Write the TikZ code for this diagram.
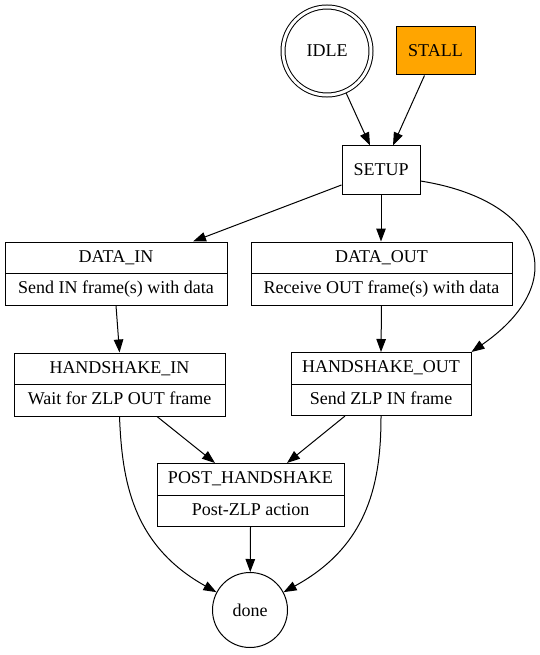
\documentclass[tikz,border=0pt]{standalone}
\usepackage{fontspec}
\setmainfont{Liberation Serif}
\usetikzlibrary{shapes.multipart,arrows.meta,calc}
\definecolor{stallorange}{HTML}{FFA500}
\newcommand{\recstrut}{\rule[-4pt]{0pt}{17pt}}
\begin{document}
\begin{tikzpicture}[x=1pt,y=-1pt,
  every node/.style={font=\fontsize{18}{21}\selectfont, line width=1pt},
  box/.style={draw, rectangle, minimum height=48pt, inner sep=0pt},
  rec/.style={draw, rectangle split, rectangle split parts=2, align=center, inner ysep=6.75pt, inner xsep=0pt},
  arr/.style={line width=1pt, -{Triangle[length=13pt,width=9.5pt]}},
]
\useasboundingbox (0,0) rectangle (540,655);

\node[circle, draw, double, double distance=3pt, minimum size=88pt, inner sep=0pt, outer sep=2.5pt] (idle) at (327,51) {IDLE};
\node[box, fill=stallorange, minimum width=79pt] (stall) at (435.5,51) {STALL};
\node[box, minimum width=78pt] (setup) at (381,170) {SETUP};

\node[rec, minimum width=222pt] (datain) at (116,273.5) {\recstrut DATA\_IN \nodepart{two}\recstrut Send IN frame(s) with data};
\node[rec, minimum width=261pt] (dataout) at (381.5,273.5) {\recstrut DATA\_OUT \nodepart{two}\recstrut Receive OUT frame(s) with data};
\node[rec, minimum width=211pt] (hsin) at (119.5,384.5) {\recstrut HANDSHAKE\_IN \nodepart{two}\recstrut Wait for ZLP OUT frame};
\node[rec, minimum width=180pt] (hsout) at (381,384) {\recstrut HANDSHAKE\_OUT \nodepart{two}\recstrut Send ZLP IN frame};
\node[rec, minimum width=187pt] (post) at (250.5,495) {\recstrut POST\_HANDSHAKE \nodepart{two}\recstrut Post-ZLP action};

\node[circle, draw, minimum size=75pt, inner sep=0pt] (done) at (250,610) {done};

\coordinate (setupR) at ($(setup.east)+(0,11)$);

\draw[arr] (idle) -- ($(setup.north)+(-11,0)$);
\draw[arr] (stall) -- ($(setup.north)+(12,0)$);
\draw[arr] (setup) -- ($(datain.north)+(77,0)$);
\draw[arr] (setup) -- (setup |- dataout.north);
\draw[arr] (setupR) .. controls (540,200) and (575,280) .. (hsout.north east);
\draw[arr] (datain.south) -- (hsin.north);
\draw[arr] (dataout.south) -- (hsout.north);
\draw[arr] ($(hsin.south)+(37.5,0)$) -- ($(post.north)+(-35.5,0)$);
\draw[arr] ($(hsout.south)+(-36,0)$) -- ($(post.north)+(36.5,0)$);
\draw[arr] (hsin.south) .. controls (122,480) and (132,545) .. (done.152);
\draw[arr] (hsout.south) .. controls (381,480) and (370,545) .. (done.28);
\draw[arr] (post.south) -- (done);
\end{tikzpicture}
\end{document}
